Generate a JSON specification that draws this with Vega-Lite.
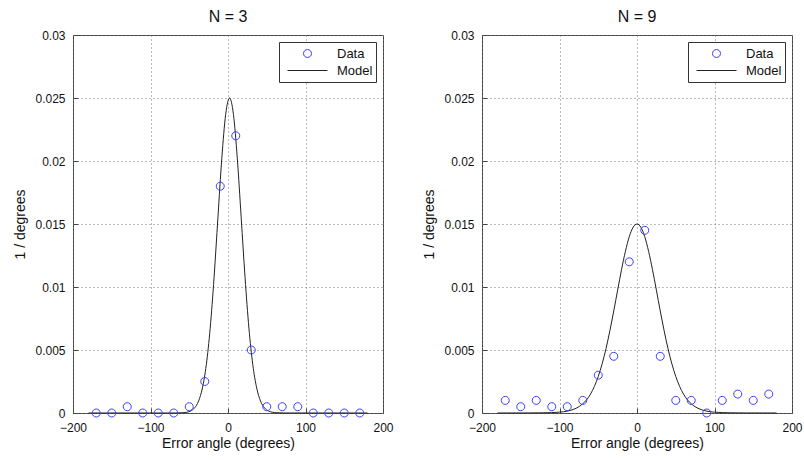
{
  "$schema": "https://vega.github.io/schema/vega-lite/v6.json",
  "background": "white",
  "padding": {"left": 13, "top": 8, "right": 5, "bottom": 5},
  "spacing": 99,
  "bounds": "flush",
  "datasets": {
    "d3": [
      {"angle": -170, "density": 0, "series": "Data"},
      {"angle": -150, "density": 0, "series": "Data"},
      {"angle": -130, "density": 0.0005, "series": "Data"},
      {"angle": -110, "density": 0, "series": "Data"},
      {"angle": -90, "density": 0, "series": "Data"},
      {"angle": -70, "density": 0, "series": "Data"},
      {"angle": -50, "density": 0.0005, "series": "Data"},
      {"angle": -30, "density": 0.0025, "series": "Data"},
      {"angle": -10, "density": 0.018, "series": "Data"},
      {"angle": 10, "density": 0.022, "series": "Data"},
      {"angle": 30, "density": 0.005, "series": "Data"},
      {"angle": 50, "density": 0.0005, "series": "Data"},
      {"angle": 70, "density": 0.0005, "series": "Data"},
      {"angle": 90, "density": 0.0005, "series": "Data"},
      {"angle": 110, "density": 0, "series": "Data"},
      {"angle": 130, "density": 0, "series": "Data"},
      {"angle": 150, "density": 0, "series": "Data"},
      {"angle": 170, "density": 0, "series": "Data"}
    ],
    "m3": [
      {"angle": -180, "density": 0, "series": "Model"},
      {"angle": -78, "density": 0.000001, "series": "Model"},
      {"angle": -68, "density": 0.000003, "series": "Model"},
      {"angle": -58, "density": 0.000023, "series": "Model"},
      {"angle": -53, "density": 0.000064, "series": "Model"},
      {"angle": -48, "density": 0.000168, "series": "Model"},
      {"angle": -43, "density": 0.000414, "series": "Model"},
      {"angle": -38, "density": 0.000945, "series": "Model"},
      {"angle": -33, "density": 0.00199, "series": "Model"},
      {"angle": -28, "density": 0.00383, "series": "Model"},
      {"angle": -23, "density": 0.00673, "series": "Model"},
      {"angle": -18, "density": 0.01075, "series": "Model"},
      {"angle": -13, "density": 0.01552, "series": "Model"},
      {"angle": -8, "density": 0.02021, "series": "Model"},
      {"angle": -3, "density": 0.0237, "series": "Model"},
      {"angle": 2, "density": 0.025, "series": "Model"},
      {"angle": 7, "density": 0.0237, "series": "Model"},
      {"angle": 12, "density": 0.02021, "series": "Model"},
      {"angle": 17, "density": 0.01552, "series": "Model"},
      {"angle": 22, "density": 0.01075, "series": "Model"},
      {"angle": 27, "density": 0.00673, "series": "Model"},
      {"angle": 32, "density": 0.00383, "series": "Model"},
      {"angle": 37, "density": 0.00199, "series": "Model"},
      {"angle": 42, "density": 0.000945, "series": "Model"},
      {"angle": 47, "density": 0.000414, "series": "Model"},
      {"angle": 52, "density": 0.000168, "series": "Model"},
      {"angle": 57, "density": 0.000064, "series": "Model"},
      {"angle": 62, "density": 0.000023, "series": "Model"},
      {"angle": 72, "density": 0.000003, "series": "Model"},
      {"angle": 82, "density": 0.000001, "series": "Model"},
      {"angle": 180, "density": 0, "series": "Model"}
    ],
    "d9": [
      {"angle": -170, "density": 0.001, "series": "Data"},
      {"angle": -150, "density": 0.0005, "series": "Data"},
      {"angle": -130, "density": 0.001, "series": "Data"},
      {"angle": -110, "density": 0.0005, "series": "Data"},
      {"angle": -90, "density": 0.0005, "series": "Data"},
      {"angle": -70, "density": 0.001, "series": "Data"},
      {"angle": -50, "density": 0.003, "series": "Data"},
      {"angle": -30, "density": 0.0045, "series": "Data"},
      {"angle": -10, "density": 0.012, "series": "Data"},
      {"angle": 10, "density": 0.0145, "series": "Data"},
      {"angle": 30, "density": 0.0045, "series": "Data"},
      {"angle": 50, "density": 0.001, "series": "Data"},
      {"angle": 70, "density": 0.001, "series": "Data"},
      {"angle": 90, "density": 0, "series": "Data"},
      {"angle": 110, "density": 0.001, "series": "Data"},
      {"angle": 130, "density": 0.0015, "series": "Data"},
      {"angle": 150, "density": 0.001, "series": "Data"},
      {"angle": 170, "density": 0.0015, "series": "Data"}
    ],
    "m9": [
      {"angle": -180, "density": 0.0000015, "series": "Model"},
      {"angle": -160, "density": 0.000002, "series": "Model"},
      {"angle": -140, "density": 0.0000045, "series": "Model"},
      {"angle": -120, "density": 0.000015, "series": "Model"},
      {"angle": -110, "density": 0.000031, "series": "Model"},
      {"angle": -100, "density": 0.000068, "series": "Model"},
      {"angle": -90, "density": 0.00015, "series": "Model"},
      {"angle": -80, "density": 0.000335, "series": "Model"},
      {"angle": -75, "density": 0.0005, "series": "Model"},
      {"angle": -70, "density": 0.00073, "series": "Model"},
      {"angle": -65, "density": 0.00105, "series": "Model"},
      {"angle": -60, "density": 0.0015, "series": "Model"},
      {"angle": -55, "density": 0.00211, "series": "Model"},
      {"angle": -50, "density": 0.0029, "series": "Model"},
      {"angle": -45, "density": 0.0039, "series": "Model"},
      {"angle": -40, "density": 0.00511, "series": "Model"},
      {"angle": -35, "density": 0.00653, "series": "Model"},
      {"angle": -30, "density": 0.0081, "series": "Model"},
      {"angle": -25, "density": 0.00975, "series": "Model"},
      {"angle": -20, "density": 0.01137, "series": "Model"},
      {"angle": -15, "density": 0.01282, "series": "Model"},
      {"angle": -10, "density": 0.01399, "series": "Model"},
      {"angle": -5, "density": 0.01474, "series": "Model"},
      {"angle": 0, "density": 0.015, "series": "Model"},
      {"angle": 5, "density": 0.01474, "series": "Model"},
      {"angle": 10, "density": 0.01399, "series": "Model"},
      {"angle": 15, "density": 0.01282, "series": "Model"},
      {"angle": 20, "density": 0.01137, "series": "Model"},
      {"angle": 25, "density": 0.00975, "series": "Model"},
      {"angle": 30, "density": 0.0081, "series": "Model"},
      {"angle": 35, "density": 0.00653, "series": "Model"},
      {"angle": 40, "density": 0.00511, "series": "Model"},
      {"angle": 45, "density": 0.0039, "series": "Model"},
      {"angle": 50, "density": 0.0029, "series": "Model"},
      {"angle": 55, "density": 0.00211, "series": "Model"},
      {"angle": 60, "density": 0.0015, "series": "Model"},
      {"angle": 65, "density": 0.00105, "series": "Model"},
      {"angle": 70, "density": 0.00073, "series": "Model"},
      {"angle": 75, "density": 0.0005, "series": "Model"},
      {"angle": 80, "density": 0.000335, "series": "Model"},
      {"angle": 90, "density": 0.00015, "series": "Model"},
      {"angle": 100, "density": 0.000068, "series": "Model"},
      {"angle": 110, "density": 0.000031, "series": "Model"},
      {"angle": 120, "density": 0.000015, "series": "Model"},
      {"angle": 140, "density": 0.0000045, "series": "Model"},
      {"angle": 160, "density": 0.000002, "series": "Model"},
      {"angle": 180, "density": 0.0000015, "series": "Model"}
    ]
  },
  "hconcat": [
    {
      "title": "N = 3",
      "width": 310,
      "height": 378,
      "encoding": {
        "x": {"field": "angle", "type": "quantitative", "scale": {"domain": [-200, 200], "nice": false, "zero": false}, "axis": {"title": "Error angle (degrees)", "values": [-200, -100, 0, 100, 200]}},
        "y": {"field": "density", "type": "quantitative", "scale": {"domain": [0, 0.03], "nice": false}, "axis": {"title": "1 / degrees", "values": [0, 0.005, 0.01, 0.015, 0.02, 0.025, 0.03], "format": "~g"}},
        "color": {"field": "series", "type": "nominal", "scale": {"domain": ["Data", "Model"], "range": ["#3c3cff", "#222222"]}, "legend": {"title": null}}
      },
      "layer": [
        {
          "data": {"name": "m3"},
          "mark": {"type": "line", "strokeWidth": 1, "interpolate": "monotone"}
        },
        {
          "data": {"name": "d3"},
          "mark": {"type": "point", "filled": false, "size": 1600, "strokeWidth": 1, "opacity": 1},
          "encoding": {
            "shape": {"field": "series", "type": "nominal", "scale": {"domain": ["Data", "Model"], "range": ["M-0.2,0A0.2,0.2,0,1,1,0.2,0A0.2,0.2,0,1,1,-0.2,0Z", "M-1,0H1"]}, "legend": {"title": null}}
          }
        }
      ]
    },
    {
      "title": "N = 9",
      "width": 310,
      "height": 378,
      "encoding": {
        "x": {"field": "angle", "type": "quantitative", "scale": {"domain": [-200, 200], "nice": false, "zero": false}, "axis": {"title": "Error angle (degrees)", "values": [-200, -100, 0, 100, 200]}},
        "y": {"field": "density", "type": "quantitative", "scale": {"domain": [0, 0.03], "nice": false}, "axis": {"title": "1 / degrees", "values": [0, 0.005, 0.01, 0.015, 0.02, 0.025, 0.03], "format": "~g"}},
        "color": {"field": "series", "type": "nominal", "scale": {"domain": ["Data", "Model"], "range": ["#3c3cff", "#222222"]}, "legend": {"title": null}}
      },
      "layer": [
        {
          "data": {"name": "m9"},
          "mark": {"type": "line", "strokeWidth": 1, "interpolate": "monotone"}
        },
        {
          "data": {"name": "d9"},
          "mark": {"type": "point", "filled": false, "size": 1600, "strokeWidth": 1, "opacity": 1},
          "encoding": {
            "shape": {"field": "series", "type": "nominal", "scale": {"domain": ["Data", "Model"], "range": ["M-0.2,0A0.2,0.2,0,1,1,0.2,0A0.2,0.2,0,1,1,-0.2,0Z", "M-1,0H1"]}, "legend": {"title": null}}
          }
        }
      ]
    }
  ],
  "resolve": {
    "scale": {"color": "independent", "shape": "independent"},
    "legend": {"color": "independent", "shape": "independent"}
  },
  "config": {
    "font": "Liberation Sans",
    "view": {"stroke": "#444444", "strokeWidth": 1},
    "axis": {
      "grid": true,
      "gridDash": [1, 3],
      "gridColor": "#777777",
      "gridOpacity": 1,
      "gridWidth": 1,
      "domain": false,
      "tickSize": -5,
      "tickColor": "#444444",
      "labelFontSize": 12,
      "labelColor": "#111111",
      "labelFlush": false,
      "labelOverlap": false,
      "titleFontSize": 14,
      "titleFontWeight": "normal",
      "titleColor": "#111111"
    },
    "axisX": {"labelPadding": 14, "titlePadding": 3},
    "axisY": {"labelPadding": 13, "titlePadding": 7},
    "title": {"fontSize": 16, "fontWeight": "normal", "offset": 4, "color": "#111111"},
    "legend": {
      "orient": "top-right",
      "offset": 7,
      "padding": 3,
      "strokeColor": "#333333",
      "fillColor": "white",
      "labelFontSize": 13,
      "labelColor": "#111111",
      "labelAlign": "left",
      "clipHeight": 17,
      "symbolOffset": 5,
      "labelOffset": 9,
      "rowPadding": 0,
      "symbolStrokeWidth": 1,
      "symbolSize": 1600
    }
  }
}
